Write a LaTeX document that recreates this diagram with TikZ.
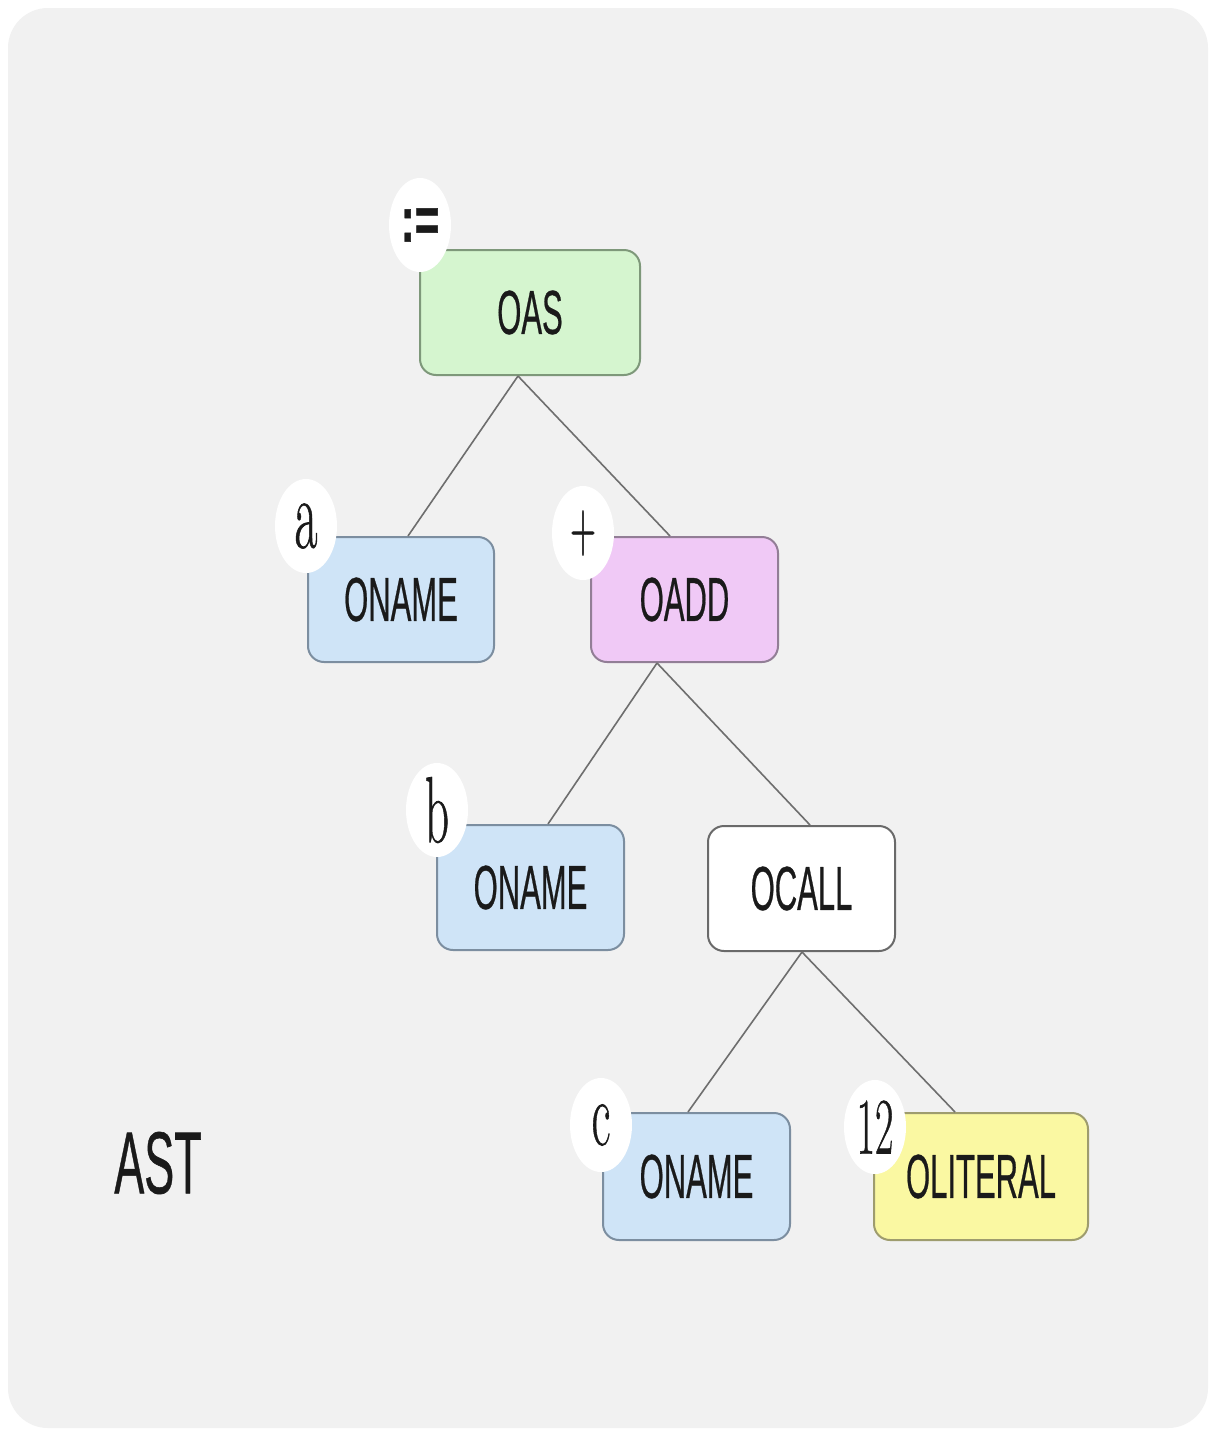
\documentclass[tikz,border=0pt]{standalone}
\usepackage{fontspec}
\usepackage{graphicx}
\newfontfamily\boxfont{Liberation Sans}[FakeBold=0.7]
\newfontfamily\lblfont{Latin Modern Roman}[FakeBold=0.8]
\usetikzlibrary{shapes.geometric}
\definecolor{bgc}{HTML}{F1F1F1}
\definecolor{edgec}{HTML}{6E6E6E}
\definecolor{txtc}{HTML}{1A1A1A}
\definecolor{gfill}{HTML}{D5F5CF}
\definecolor{gdraw}{HTML}{7E987A}
\definecolor{bfill}{HTML}{CFE4F7}
\definecolor{bdraw}{HTML}{7C8EA0}
\definecolor{pfill}{HTML}{F0C9F6}
\definecolor{pdraw}{HTML}{927E96}
\definecolor{yfill}{HTML}{FAF8A2}
\definecolor{ydraw}{HTML}{9E9C6E}
\definecolor{wdraw}{HTML}{6A6A6A}
\newcommand{\sqz}[2]{\scalebox{#1}[1]{#2}}
\begin{document}
\begin{tikzpicture}[x=0.5pt,y=-0.5pt,
  tbox/.style={rectangle, rounded corners=8pt, line width=1pt,
    minimum width=93.5pt, minimum height=62.5pt, inner sep=0pt,
    text=txtc, font=\boxfont\fontsize{31}{31}\selectfont},
  gbox/.style={tbox, fill=gfill, draw=gdraw},
  bbox/.style={tbox, fill=bfill, draw=bdraw},
  pbox/.style={tbox, fill=pfill, draw=pdraw},
  ybox/.style={tbox, fill=yfill, draw=ydraw},
  wbox/.style={tbox, fill=white, draw=wdraw},
  lbl/.style={ellipse, fill=white, minimum width=31pt, minimum height=47pt,
    inner sep=0pt, text=txtc},
  conn/.style={draw=edgec, line width=0.8pt}
]
\useasboundingbox (0,0) rectangle (1214,1435);
\fill[white] (0,0) rectangle (1214,1435);
\fill[bgc, rounded corners=20pt] (8,8) rectangle (1208,1428);

% boxes
\node[gbox, minimum width=110pt] (oas) at (530,312.5) {\sqz{0.5}{OAS}};
\node[bbox, minimum width=93pt] (na) at (401,599.5) {\sqz{0.5}{ONAME}};
\node[pbox] (oadd) at (684.5,599.5) {\sqz{0.5}{OADD}};
\node[bbox] (nb) at (530.5,887.5) {\sqz{0.5}{ONAME}};
\node[wbox] (ocall) at (801.5,888.5) {\sqz{0.5}{OCALL}};
\node[bbox, minimum height=63.5pt] (nc) at (696.5,1176.5) {\sqz{0.5}{ONAME}};
\node[ybox, minimum width=107pt, minimum height=63.5pt] (olit) at (981,1176.5) {\sqz{0.5}{OLITERAL}};

% connectors
\draw[conn] ([xshift=-6pt]oas.south) -- ([xshift=3.5pt]na.north);
\draw[conn] ([xshift=-6pt]oas.south) -- ([xshift=-7.25pt]oadd.north);
\draw[conn] ([xshift=-13.75pt]oadd.south) -- ([xshift=8.75pt]nb.north);
\draw[conn] ([xshift=-13.75pt]oadd.south) -- ([xshift=4.25pt]ocall.north);
\draw[conn] ([xshift=0.25pt]ocall.south) -- ([xshift=-4.25pt]nc.north);
\draw[conn] ([xshift=0.25pt]ocall.south) -- ([xshift=-13pt]olit.north);

% labels
\node[lbl, font=\boxfont\bfseries\fontsize{32}{32}\selectfont] (lassign) at (420,225) {\sqz{0.66}{:=}};
\node[lbl, font=\lblfont\fontsize{50}{50}\selectfont] (la) at (306,526) {\sqz{0.5}{a}};
\node[lbl, font=\lblfont\fontsize{36}{36}\selectfont] (lplus) at (583,533) {\sqz{0.5}{+}};
\node[lbl, font=\lblfont\fontsize{47}{47}\selectfont] (lb) at (437,810) {\sqz{0.5}{b}};
\node[lbl, font=\lblfont\fontsize{46}{46}\selectfont] (lc) at (601,1125) {\sqz{0.5}{c}};
\node[lbl, font=\lblfont\fontsize{40}{40}\selectfont] (l12) at (875,1127) {\sqz{0.5}{12}};

% title
\node[text=txtc, inner sep=0pt, font=\boxfont\fontsize{44}{44}\selectfont] (ast) at (158,1163) {\sqz{0.51}{AST}};
\end{tikzpicture}
\end{document}
